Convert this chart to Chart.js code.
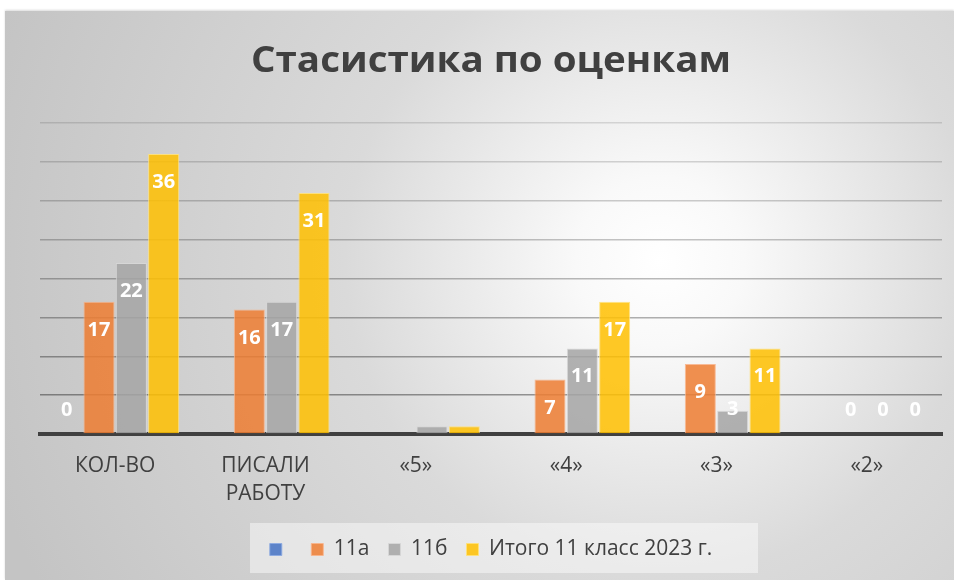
<!DOCTYPE html>
<html>
<head>
<meta charset="utf-8">
<script src="https://cdn.jsdelivr.net/npm/chart.js@4.4.1/dist/chart.umd.min.js"></script>
<style>
  html, body { margin: 0; padding: 0; background: #ffffff; }
  #bg {
    position: absolute; left: 5px; top: 11px; width: 949px; height: 569px;
    background: radial-gradient(circle 700px at 655px 250px, #ffffff 0%, #f9f9f9 12%, #dadada 45%, #c4c4c4 100%);
    box-shadow: 0 -1px 2px rgba(0,0,0,0.15);
  }
  #wrap { position: absolute; left: 0; top: 0; width: 954px; height: 580px; }
</style>
</head>
<body>
<div id="bg"></div>
<div id="wrap"><canvas id="c" width="954" height="580"></canvas></div>
<script>
const chartTitle = "Стасистика по оценкам";
const categories = ["КОЛ-ВО", ["ПИСАЛИ", "РАБОТУ"], "«5»", "«4»", "«3»", "«2»"];
const seriesNames = ["", "11а", "11б", "Итого 11 класс 2023 г."];
const seriesBlank = [0, null, null, null, null, null];
const series11a = [17, 16, null, 7, 9, 0];
const series11b = [22, 17, 1, 11, 3, 0];
const seriesTotal = [36, 31, 1, 17, 11, 0];
const labelHiddenCategories = [2];
const yMax = 40;
const yStep = 5;

const colors = [
  "rgba(68,114,196,0.85)",
  "rgba(237,125,49,0.85)",
  "rgba(165,165,165,0.85)",
  "rgba(255,192,0,0.85)"
];
const borders = [
  "rgba(140,170,225,0.9)",
  "rgba(248,180,140,0.9)",
  "rgba(215,215,215,0.9)",
  "rgba(255,225,120,0.9)"
];

const titlePlugin = {
  id: "titleText",
  afterDraw(chart) {
    const ctx = chart.ctx;
    ctx.save();
    ctx.font = "bold 36px 'Open Sans'";
    ctx.fillStyle = "#404040";
    ctx.textAlign = "center";
    ctx.textBaseline = "alphabetic";
    const w = ctx.measureText(chartTitle).width;
    const target = 480;
    const cx = (chart.chartArea.left + chart.chartArea.right) / 2;
    ctx.translate(cx, 72);
    ctx.scale(target / w, 1);
    ctx.fillText(chartTitle, 0, 0);
    ctx.restore();
  }
};

const valueLabels = {
  id: "valueLabels",
  afterDatasetsDraw(chart) {
    const ctx = chart.ctx;
    ctx.save();
    ctx.font = "bold 20px 'Open Sans'";
    ctx.fillStyle = "#ffffff";
    ctx.textAlign = "center";
    ctx.textBaseline = "alphabetic";
    chart.data.datasets.forEach((ds, di) => {
      const meta = chart.getDatasetMeta(di);
      meta.data.forEach((el, i) => {
        const v = ds.data[i];
        if (v === null || v === undefined) return;
        if (labelHiddenCategories.includes(i)) return;
        const base = el.base;
        const y = Math.min(el.y + 34, base - 18);
        ctx.fillText(String(v), el.x, y);
      });
    });
    ctx.restore();
  }
};

const legendBox = {
  id: "legendBox",
  beforeDraw(chart) {
    const ctx = chart.ctx;
    ctx.save();
    ctx.fillStyle = "rgba(255,255,255,0.45)";
    ctx.fillRect(250, 523, 508, 50);
    ctx.restore();
  }
};

new Chart(document.getElementById("c"), {
  type: "bar",
  data: {
    labels: categories,
    datasets: [seriesBlank, series11a, series11b, seriesTotal].map((d, i) => ({
      label: seriesNames[i],
      data: d,
      backgroundColor: colors[i],
      borderColor: borders[i],
      borderWidth: 1,
      categoryPercentage: 0.86,
      barPercentage: 0.96
    }))
  },
  options: {
    responsive: false,
    animation: false,
    layout: { padding: { left: 40, right: 12, top: 123, bottom: 10 } },
    plugins: {
      title: { display: false },
      legend: {
        position: "bottom",
        labels: {
          color: "#404040",
          boxWidth: 12,
          boxHeight: 12,
          padding: 19,
          font: { family: "'Open Sans'", size: 21 }
        }
      },
      tooltip: { enabled: false }
    },
    scales: {
      x: {
        grid: { display: false, drawTicks: false },
        border: { display: true, color: "#404040", width: 4 },
        afterFit(scale) { scale.height -= 6; },
        ticks: {
          color: "#404040",
          padding: 18,
          font: { family: "'Open Sans'", size: 21, lineHeight: 1.333 }
        }
      },
      y: {
        min: 0,
        max: yMax,
        afterFit(scale) { scale.width = 0; },
        ticks: { display: false, stepSize: yStep },
        border: { display: false },
        grid: {
          drawTicks: false,
          lineWidth: 1.5,
          color(ctx) {
            const t = ctx.index / (yMax / yStep);
            const a = 0.42 - 0.3 * t;
            return "rgba(0,0,0," + a.toFixed(3) + ")";
          }
        }
      }
    }
  },
  plugins: [legendBox, valueLabels, titlePlugin]
});
</script>
</body>
</html>
